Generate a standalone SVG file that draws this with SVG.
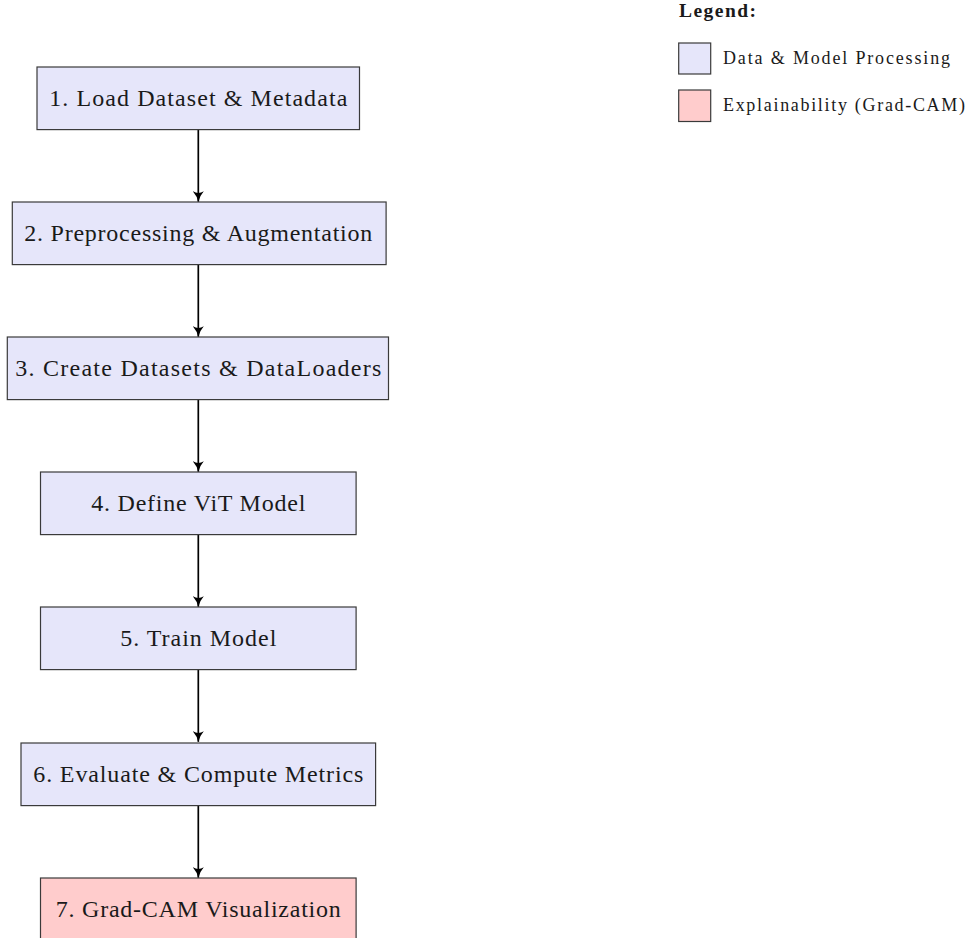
<svg xmlns="http://www.w3.org/2000/svg" width="972" height="938" viewBox="0 0 972 938">
  <style>
    .box { stroke: #3a3a3a; stroke-width: 1.2; }
    .proc { fill: #e6e6fa; }
    .expl { fill: #ffcccc; }
    .label { font-family: "Liberation Serif", "Times New Roman", serif; font-size: 24px; fill: #1a1a1a; text-anchor: middle; }
    .legend-title { font-family: "Liberation Serif", "Times New Roman", serif; font-size: 19.5px; font-weight: bold; fill: #1a1a1a; }
    .legend-text { font-family: "Liberation Serif", "Times New Roman", serif; font-size: 18px; fill: #1a1a1a; }
    .edge { stroke: #000; stroke-width: 1.7; fill: none; }
  </style>
  <defs>
    <marker id="arrow" viewBox="0 0 10 10" refX="9.6" refY="5" markerWidth="11" markerHeight="11" markerUnits="userSpaceOnUse" orient="auto">
      <path d="M10,5 Q4.5,6 0,10 Q3,5 0,0 Q4.5,4 10,5 Z" fill="#000"/>
    </marker>
  </defs>

  <rect width="972" height="938" fill="#ffffff"/>

  <!-- pipeline connectors -->
  <g id="connectors">
    <line class="edge" x1="198.3" y1="129.6" x2="198.3" y2="201.8" marker-end="url(#arrow)"/>
    <line class="edge" x1="198.3" y1="264.6" x2="198.3" y2="336.8" marker-end="url(#arrow)"/>
    <line class="edge" x1="198.3" y1="399.6" x2="198.3" y2="471.8" marker-end="url(#arrow)"/>
    <line class="edge" x1="198.3" y1="534.6" x2="198.3" y2="606.8" marker-end="url(#arrow)"/>
    <line class="edge" x1="198.3" y1="669.6" x2="198.3" y2="741.8" marker-end="url(#arrow)"/>
    <line class="edge" x1="198.3" y1="805.6" x2="198.3" y2="877.8" marker-end="url(#arrow)"/>
  </g>

  <!-- pipeline steps -->
  <g id="step1">
    <rect class="box proc" x="37" y="67" width="322.5" height="62.6"/>
    <text class="label" x="198.3" y="106.3" textLength="298" lengthAdjust="spacing">1. Load Dataset &amp; Metadata</text>
  </g>
  <g id="step2">
    <rect class="box proc" x="12.3" y="202" width="373.8" height="62.6"/>
    <text class="label" x="198.3" y="241.3" textLength="348" lengthAdjust="spacing">2. Preprocessing &amp; Augmentation</text>
  </g>
  <g id="step3">
    <rect class="box proc" x="7.3" y="337" width="381.2" height="62.6"/>
    <text class="label" x="198.3" y="376.3" textLength="366" lengthAdjust="spacing">3. Create Datasets &amp; DataLoaders</text>
  </g>
  <g id="step4">
    <rect class="box proc" x="40.5" y="472" width="315.6" height="62.6"/>
    <text class="label" x="198.3" y="511.3" textLength="214" lengthAdjust="spacing">4. Define ViT Model</text>
  </g>
  <g id="step5">
    <rect class="box proc" x="40.5" y="607" width="315.6" height="62.6"/>
    <text class="label" x="198.3" y="646.3" textLength="156" lengthAdjust="spacing">5. Train Model</text>
  </g>
  <g id="step6">
    <rect class="box proc" x="21" y="743" width="354.6" height="62.6"/>
    <text class="label" x="198.3" y="782.3" textLength="330" lengthAdjust="spacing">6. Evaluate &amp; Compute Metrics</text>
  </g>
  <g id="step7">
    <rect class="box expl" x="40.5" y="878" width="315.6" height="62.6"/>
    <text class="label" x="198.3" y="917.3" textLength="285" lengthAdjust="spacing">7. Grad-CAM Visualization</text>
  </g>

  <!-- legend -->
  <g id="legend">
    <text class="legend-title" x="679" y="17" textLength="77" lengthAdjust="spacing">Legend:</text>
    <rect class="box proc" x="678.7" y="43" width="32" height="31"/>
    <text class="legend-text" x="723" y="64" textLength="227" lengthAdjust="spacing">Data &amp; Model Processing</text>
    <rect class="box expl" x="678.7" y="90" width="32" height="31.5"/>
    <text class="legend-text" x="723" y="111" textLength="242" lengthAdjust="spacing">Explainability (Grad-CAM)</text>
  </g>
</svg>
